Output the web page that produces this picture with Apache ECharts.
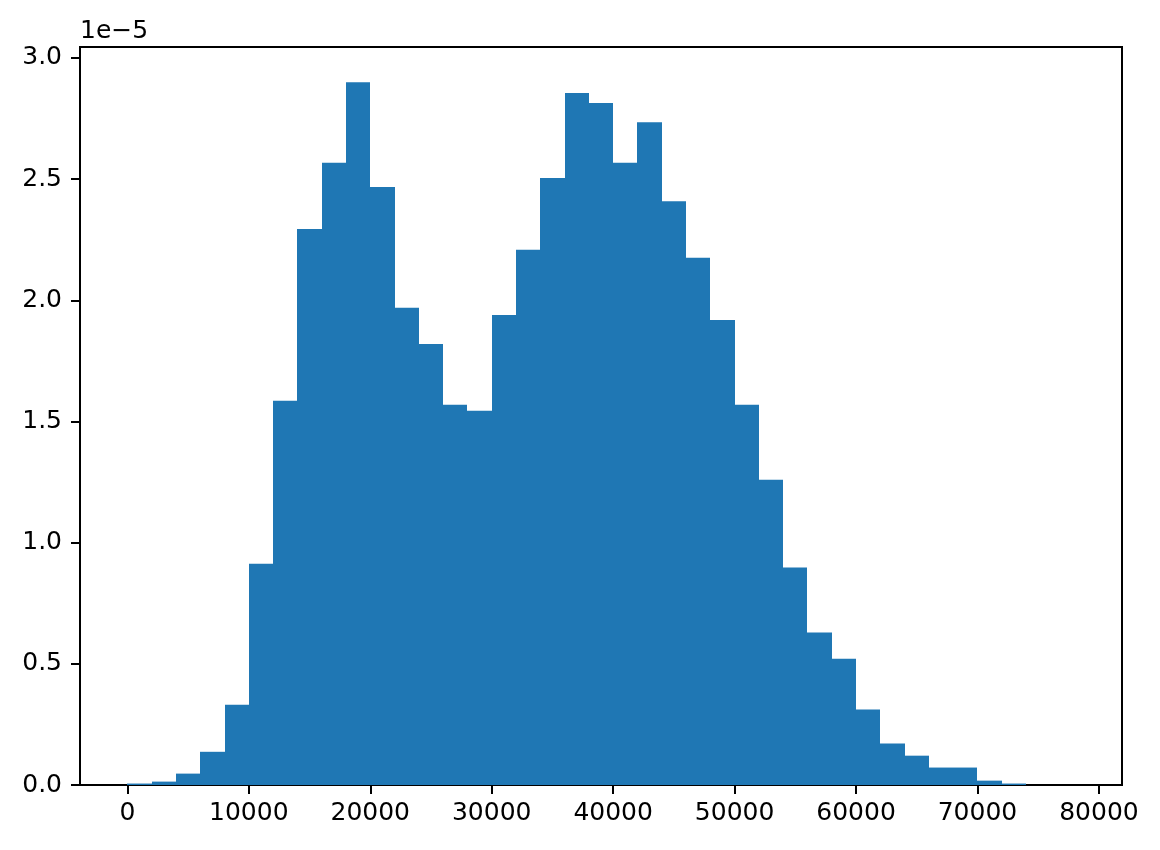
<!DOCTYPE html>
<html>
<head>
<meta charset="utf-8">
<script src="https://cdn.jsdelivr.net/npm/echarts@6/dist/echarts.min.js"></script>
<style>html,body{margin:0;padding:0;background:#fff}#c{width:1160px;height:850px}</style>
</head>
<body>
<div id="c"></div>
<script>
// Histogram bin left edges (bin width 2000), last edge closes the final bin
const binEdges = [0, 2000, 4000, 6000, 8000, 10000, 12000, 14000, 16000, 18000,
  20000, 22000, 24000, 26000, 28000, 30000, 32000, 34000, 36000, 38000,
  40000, 42000, 44000, 46000, 48000, 50000, 52000, 54000, 56000, 58000,
  60000, 62000, 64000, 66000, 68000, 70000, 72000, 74000, 76000, 78000];
// Density per bin, in units of 1e-5
const densityE5 = [0.006, 0.014, 0.047, 0.137, 0.331, 0.913, 1.585, 2.294, 2.567, 2.900,
  2.467, 1.969, 1.820, 1.569, 1.544, 1.939, 2.208, 2.504, 2.855, 2.814,
  2.567, 2.735, 2.409, 2.175, 1.919, 1.569, 1.259, 0.897, 0.629, 0.521,
  0.311, 0.171, 0.121, 0.072, 0.072, 0.018, 0.006, 0, 0];
const xTicks = [0, 10000, 20000, 30000, 40000, 50000, 60000, 70000, 80000];
const yTicks = [0, 0.5, 1.0, 1.5, 2.0, 2.5, 3.0];
const offsetText = '1e\u22125';

const bars = densityE5.map((d, i) => [binEdges[i], binEdges[i + 1], d]);
const FONT = 'DejaVu Sans';
const chart = echarts.init(document.getElementById('c'), null, {renderer: 'canvas'});
const axisCommon = {
  axisLine: {show: true, onZero: false, lineStyle: {color: '#000', width: 2}},
  axisTick: {show: true, inside: false, length: 9, lineStyle: {color: '#000', width: 2}},
  splitLine: {show: false},
  axisLabel: {color: '#000', fontSize: 25, fontFamily: FONT}
};
chart.setOption({
  animation: false,
  backgroundColor: '#fff',
  grid: {left: 80, right: 38, top: 47, bottom: 65, show: true, borderColor: '#000', borderWidth: 2, backgroundColor: 'transparent'},
  xAxis: Object.assign({}, axisCommon, {
    type: 'value', min: -3900, max: 81900,
    axisTick: Object.assign({}, axisCommon.axisTick, {customValues: xTicks}),
    axisLabel: Object.assign({}, axisCommon.axisLabel, {customValues: xTicks, margin: 16, formatter: v => String(v)})
  }),
  yAxis: Object.assign({}, axisCommon, {
    type: 'value', min: 0, max: 3.045,
    axisTick: Object.assign({}, axisCommon.axisTick, {customValues: yTicks}),
    axisLabel: Object.assign({}, axisCommon.axisLabel, {customValues: yTicks, margin: 18, formatter: v => v.toFixed(1)})
  }),
  graphic: [{
    type: 'text', left: 80, top: 19,
    style: {text: offsetText, fontSize: 25, fontFamily: FONT, fill: '#000'}
  }],
  series: [{
    type: 'custom',
    data: bars,
    encode: {x: [0, 1], y: 2},
    renderItem: function (params, api) {
      if (!(api.value(2) > 0)) return null;
      const p0 = api.coord([api.value(0), api.value(2)]);
      const p1 = api.coord([api.value(1), 0]);
      const x0 = Math.round(p0[0]), x1 = Math.round(p1[0]);
      return {
        type: 'rect',
        shape: {x: x0, y: p0[1], width: x1 - x0, height: p1[1] - p0[1]},
        style: {fill: '#1f77b4'}
      };
    }
  }]
});
</script>
</body>
</html>
